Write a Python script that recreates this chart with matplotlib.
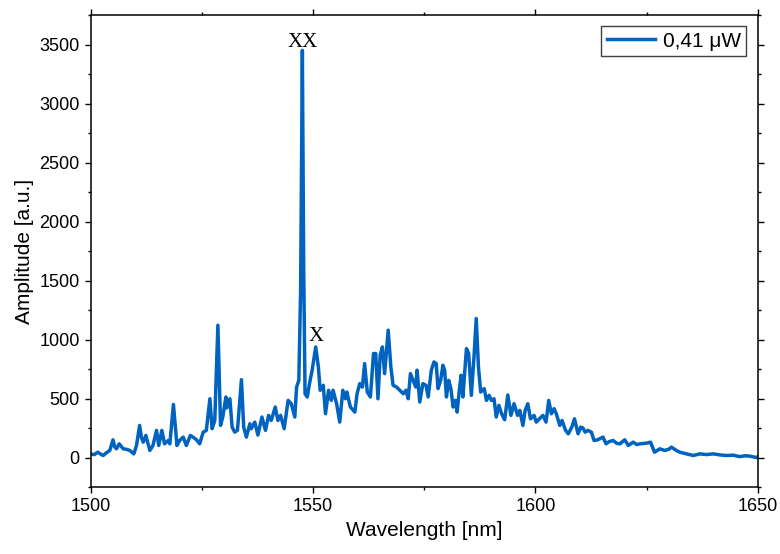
import matplotlib.pyplot as plt
from matplotlib.ticker import MultipleLocator

# spectrum
wavelength = [
    1500.0, 1500.8, 1501.6, 1502.2, 1502.8, 1503.5, 1504.3, 1505.0, 1505.4, 1505.8,
    1506.4, 1507.3, 1508.0, 1508.8, 1509.7, 1510.3, 1511.0, 1511.4, 1511.8, 1512.4,
    1513.3, 1514.0, 1514.8, 1515.3, 1516.0, 1516.6, 1517.4, 1517.8, 1518.6, 1519.4,
    1520.0, 1520.8, 1521.5, 1522.4, 1523.0, 1523.8, 1524.5, 1525.3, 1526.0, 1526.8,
    1527.3, 1527.9, 1528.6, 1529.2, 1529.7, 1530.4, 1530.6, 1531.3, 1531.8, 1532.4,
    1533.0, 1533.9, 1534.4, 1535.0, 1535.8, 1536.1, 1536.9, 1537.6, 1538.5, 1539.3,
    1540.0, 1540.6, 1541.5, 1542.1, 1542.7, 1543.5, 1544.4, 1545.1, 1545.9, 1546.3,
    1546.8, 1547.2, 1547.6, 1547.9, 1548.2, 1548.7, 1549.2, 1549.8, 1550.6, 1551.2,
    1551.6, 1552.3, 1552.8, 1553.5, 1554.1, 1554.5, 1555.3, 1556.0, 1556.7, 1557.3,
    1557.6, 1558.4, 1559.4, 1559.9, 1560.5, 1561.1, 1561.6, 1562.2, 1562.9, 1563.6,
    1564.1, 1564.6, 1565.1, 1565.6, 1566.1, 1566.9, 1567.5, 1568.0, 1568.8, 1569.5,
    1570.3, 1570.9, 1571.4, 1571.9, 1572.5, 1573.1, 1573.4, 1574.0, 1574.7, 1575.4,
    1575.9, 1576.6, 1577.2, 1577.7, 1578.1, 1578.7, 1579.2, 1579.6, 1580.0, 1580.5,
    1581.0, 1581.5, 1582.0, 1582.4, 1582.9, 1583.3, 1583.7, 1584.5, 1585.0, 1585.6,
    1586.2, 1586.7, 1587.2, 1587.7, 1588.5, 1589.0, 1589.6, 1590.1, 1590.7, 1591.2,
    1591.8, 1592.4, 1593.1, 1593.8, 1594.5, 1595.2, 1596.0, 1596.5, 1597.2, 1597.7,
    1598.3, 1598.9, 1599.7, 1600.2, 1600.9, 1601.7, 1602.4, 1603.0, 1603.6, 1604.2,
    1604.7, 1605.5, 1606.0, 1606.8, 1607.4, 1608.2, 1608.8, 1609.6, 1610.2, 1610.7,
    1611.2, 1611.8, 1612.6, 1613.2, 1614.0, 1615.2, 1615.9, 1616.6, 1617.5, 1618.3,
    1619.0, 1620.1, 1620.9, 1622.0, 1622.8, 1623.5, 1625.0, 1625.9, 1626.8, 1628.0,
    1629.1, 1630.0, 1630.6, 1631.7, 1632.5, 1634.0, 1635.5, 1637.0, 1638.5, 1640.0,
    1641.5, 1643.0, 1644.5, 1645.9, 1647.4, 1648.5, 1649.7, 1650.0,
]
amplitude = [
    30, 25, 45, 30, 17, 40, 60, 150, 90, 74,
    116, 74, 70, 60, 31, 102, 272, 170, 130, 187,
    60, 102, 230, 102, 230, 116, 144, 116, 450, 102,
    144, 173, 102, 187, 173, 150, 116, 215, 230, 498,
    244, 314, 1121, 272, 343, 513, 420, 498, 258, 215,
    230, 660, 258, 173, 286, 244, 300, 190, 343, 230,
    357, 314, 428, 314, 357, 244, 484, 456, 343, 597,
    654, 1400, 3450, 1600, 541, 513, 626, 740, 937, 767,
    570, 612, 371, 570, 484, 570, 456, 300, 570, 498,
    555, 428, 385, 541, 626, 597, 796, 555, 513, 881,
    881, 498, 867, 937, 711, 1079, 767, 612, 597, 570,
    541, 570, 498, 711, 654, 597, 740, 470, 626, 612,
    513, 740, 810, 796, 584, 654, 782, 740, 513, 654,
    584, 428, 484, 385, 570, 697, 513, 923, 881, 527,
    853, 1178, 767, 555, 584, 484, 527, 484, 498, 343,
    442, 371, 320, 530, 357, 456, 357, 399, 272, 399,
    456, 328, 357, 300, 328, 357, 300, 484, 371, 414,
    371, 272, 314, 230, 201, 258, 328, 201, 258, 250,
    215, 230, 215, 144, 150, 173, 116, 135, 144, 120,
    116, 150, 102, 130, 110, 116, 122, 130, 45, 74,
    60, 70, 88, 60, 45, 31, 17, 31, 25, 31,
    22, 17, 20, 8, 15, 10, 0, 5,
]

plt.rcParams['font.family'] = ['Liberation Sans', 'DejaVu Sans']

fig = plt.figure(figsize=(7.8, 5.54), dpi=100)
ax = fig.add_axes([0.1163, 0.1209, 0.9714 - 0.1163, 0.9729 - 0.1209])

ax.plot(wavelength, amplitude, color='#0063BF', lw=2.5, label='0,41 μW')

ax.set_xlim(1500, 1650)
ax.set_ylim(-250, 3750)
ax.xaxis.set_major_locator(MultipleLocator(50))
ax.xaxis.set_minor_locator(MultipleLocator(25))
ax.yaxis.set_major_locator(MultipleLocator(500))
ax.yaxis.set_minor_locator(MultipleLocator(250))
ax.tick_params(which='both', direction='out', top=True, right=True, labelsize=13)
ax.tick_params(which='major', length=4.5, width=1)
ax.tick_params(which='minor', length=2.5, width=1)
for s in ax.spines.values():
    s.set_linewidth(1.1)

ax.set_xlabel('Wavelength [nm]', fontsize=15)
ax.set_ylabel('Amplitude [a.u.]', fontsize=15)

ax.text(1547.6, 3480, 'XX', family='Liberation Serif', fontsize=15, ha='center', va='baseline')
ax.text(1550.6, 985, 'X', family='Liberation Serif', fontsize=15, ha='center', va='baseline')

leg = ax.legend(loc='upper right', fontsize=15, fancybox=False, framealpha=1,
                edgecolor='#404040', handlelength=2.3, borderpad=0.25,
                handletextpad=0.4, borderaxespad=0.55)
leg.get_frame().set_linewidth(1)

fig.savefig('out.png', dpi=100)
